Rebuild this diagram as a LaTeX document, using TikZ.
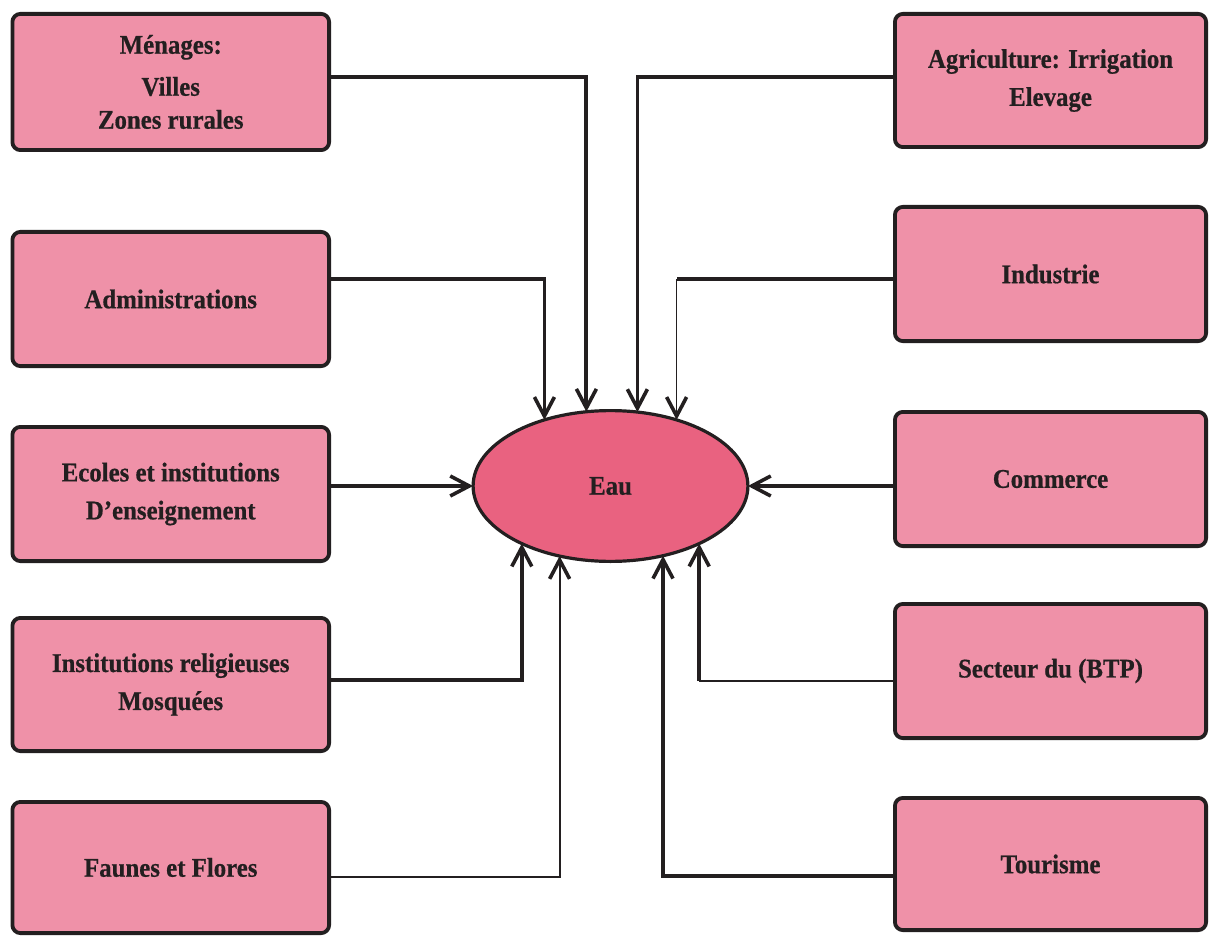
\documentclass[tikz,border=0pt]{standalone}
\usepackage{fontspec}
\setmainfont{Liberation Serif}[FakeStretch=0.92,FakeBold=0.6]
\usetikzlibrary{arrows.meta,shapes.geometric}
\definecolor{boxpink}{RGB}{239,145,168}
\definecolor{eaupink}{RGB}{233,98,128}
\definecolor{ink}{RGB}{35,31,32}
\begin{document}
\begin{tikzpicture}[x=1pt,y=-1pt,
  box/.style={draw=ink, fill=boxpink, line width=3.8pt, rounded corners=8pt, align=center,
    font=\fontsize{27}{38}\selectfont\bfseries, text=ink, inner sep=0pt, outer sep=0pt},
  lbox/.style={box, minimum width=316.7pt},
  rbox/.style={box, minimum width=311.2pt},
  conn/.style={draw=ink, -{Straight Barb[length=19pt,width=20pt,line width=3.6pt 0 1]}},
  plain/.style={draw=ink}]
\useasboundingbox (0,0) rectangle (1210,936);
% left boxes
\node[lbox, minimum height=136.2pt, font=\fontsize{27}{33}\selectfont\bfseries] (men) at (170.75,82) {Ménages:\\[9pt]Villes\\Zones rurales};
\node[lbox, minimum height=134.2pt] (adm) at (170.75,299) {Administrations};
\node[lbox, minimum height=134.2pt] (eco) at (170.75,494) {Ecoles et institutions\\D’enseignement};
\node[lbox, minimum height=133.2pt] (rel) at (170.75,684.5) {Institutions religieuses\\Mosquées};
\node[lbox, minimum height=131.2pt] (fau) at (170.75,867.5) {Faunes et Flores};
% right boxes
\node[rbox, minimum height=133.2pt] (agr) at (1050.5,80.5) {Agriculture: Irrigation\\Elevage};
\node[rbox, minimum height=134.2pt] (ind) at (1050.5,274) {Industrie};
\node[rbox, minimum height=134.2pt] (com) at (1050.5,479) {Commerce};
\node[rbox, minimum height=134.2pt] (btp) at (1050.5,671) {Secteur du (BTP)};
\node[rbox, minimum height=132.2pt] (tou) at (1050.5,864) {Tourisme};
% centre
\node[ellipse, draw=ink, fill=eaupink, line width=3.2pt, minimum width=274.8pt, minimum height=150.8pt,
  inner sep=0pt, outer sep=0pt, font=\fontsize{27}{33}\selectfont\bfseries, text=ink] (eau) at (610.5,486) {Eau};
% helper levels
\coordinate (yA) at (0,76.7);
\coordinate (yB) at (0,279);
\coordinate (yC) at (0,679.5);
\coordinate (yD) at (0,877);
\coordinate (yE) at (0,681);
\coordinate (yF) at (0,876);
\coordinate (indbend) at (eau.45.08 |- yB);
\coordinate (btpbend) at (eau.327.16 |- yE);
% connectors
\draw[conn, line width=3.8pt] (men.east |- yA) -| (eau.108.12);
\draw[conn, line width=3.8pt] (agr.west |- yA) -| (eau.70.68);
\draw[conn, line width=3.2pt] (adm.east |- yB) -| (eau.135.8);
\draw[plain, line width=3.4pt] (ind.west |- yB) -- (indbend);
\draw[conn, line width=1.7pt] (indbend) -- (eau.45.08);
\draw[conn, line width=4.2pt] (eco.east |- eau.west) -- (eau.west);
\draw[conn, line width=4.8pt] (com.west |- eau.east) -- (eau.east);
\draw[conn, line width=4pt] (rel.east |- yC) -| (eau.213.2);
\draw[conn, line width=2.2pt] (fau.east |- yD) -| (eau.234.84);
\draw[plain, line width=2.4pt] (btp.west |- yE) -- (btpbend);
\draw[conn, line width=4.2pt] (btpbend) -- (eau.327.16);
\draw[conn, line width=4.6pt] (tou.west |- yF) -| (eau.307.6);
\end{tikzpicture}
\end{document}
